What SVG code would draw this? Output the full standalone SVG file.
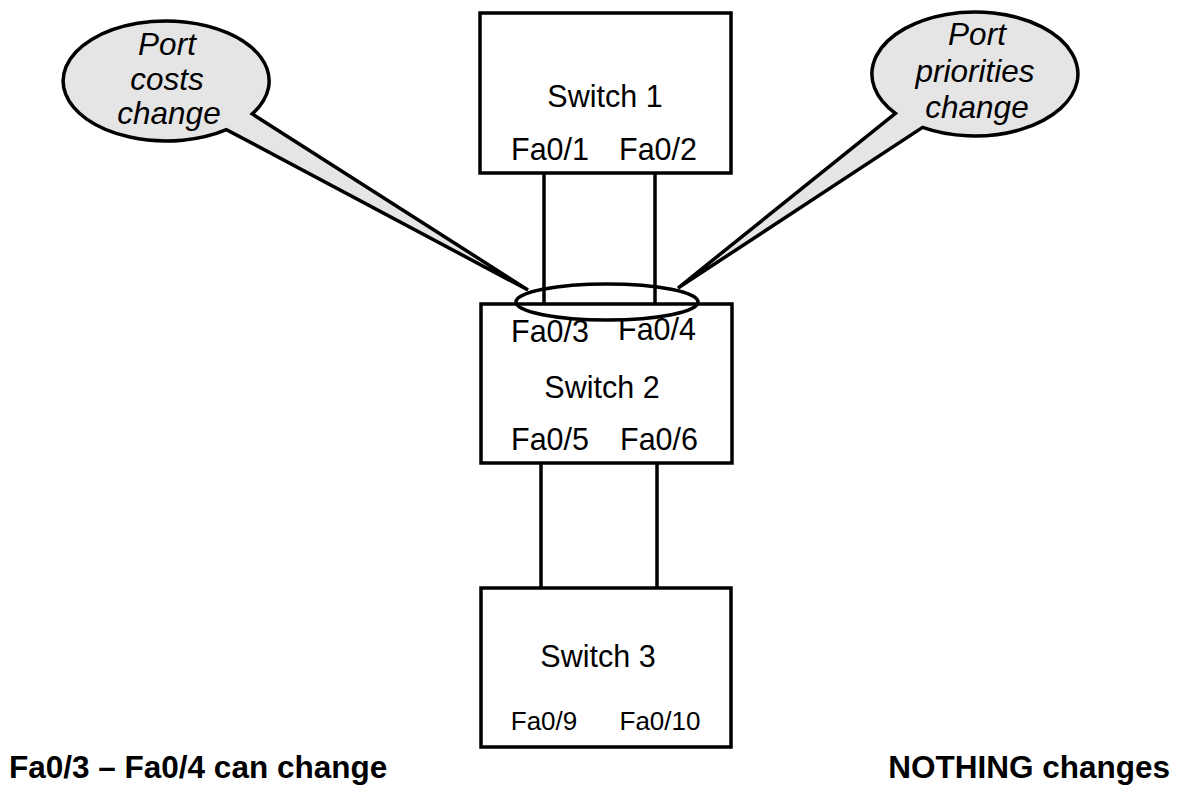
<svg xmlns="http://www.w3.org/2000/svg" width="1178" height="785" viewBox="0 0 1178 785">
  <style>
    .box { fill: #ffffff; stroke: #000000; stroke-width: 3.5; }
    .link { stroke: #000000; stroke-width: 3.5; fill: none; }
    .callout { fill: #e5e5e5; stroke: #000000; stroke-width: 3.5; stroke-linejoin: miter; }
    .ring { fill: none; stroke: #000000; stroke-width: 3.5; }
    .lbl { font-family: "Liberation Sans", Arial, sans-serif; font-size: 30.5px; fill: #000000; text-anchor: middle; }
    .port-sm { font-size: 26px; }
    .note { font-family: "Liberation Sans", Arial, sans-serif; font-size: 31.5px; font-style: italic; fill: #000000; text-anchor: middle; }
    .caption { font-family: "Liberation Sans", Arial, sans-serif; font-size: 31.5px; font-weight: bold; fill: #000000; }
  </style>
  <rect width="1178" height="785" fill="#ffffff"/>

  <!-- links between switches -->
  <g id="connectors">
    <line class="link" x1="544" y1="173" x2="544" y2="304"/>
    <line class="link" x1="655" y1="173" x2="655" y2="304"/>
    <line class="link" x1="541" y1="463" x2="541" y2="592"/>
    <line class="link" x1="657" y1="463" x2="657" y2="592"/>
  </g>

  <g id="switch1">
    <rect class="box" x="480" y="13" width="251" height="160"/>
    <text class="lbl" x="605" y="107">Switch 1</text>
    <text class="lbl" x="550" y="160">Fa0/1</text>
    <text class="lbl" x="658" y="160">Fa0/2</text>
  </g>

  <g id="switch2">
    <rect class="box" x="481" y="304" width="251" height="159"/>
    <text class="lbl" x="550" y="342">Fa0/3</text>
    <text class="lbl" x="657" y="340">Fa0/4</text>
    <text class="lbl" x="602" y="398">Switch 2</text>
    <text class="lbl" x="550" y="450">Fa0/5</text>
    <text class="lbl" x="659" y="450">Fa0/6</text>
  </g>

  <g id="switch3">
    <rect class="box" x="481" y="588" width="250" height="159"/>
    <text class="lbl" x="598" y="667">Switch 3</text>
    <text class="lbl port-sm" x="544" y="730">Fa0/9</text>
    <text class="lbl port-sm" x="660" y="730">Fa0/10</text>
  </g>

  <!-- ring marking the Fa0/3 - Fa0/4 uplinks -->
  <g id="uplink-ring">
    <ellipse class="ring" cx="607" cy="302" rx="91" ry="18"/>
  </g>

  <g id="callout-costs">
    <path class="callout" d="M 252.2,113.9 L 528,290 L 226.4,129.6 A 103 60 0 1 1 252.2,113.9 Z"/>
    <text class="note" x="167" y="55">Port</text>
    <text class="note" x="167" y="90">costs</text>
    <text class="note" x="169" y="124">change</text>
  </g>

  <g id="callout-priorities">
    <path class="callout" d="M 895.4,113.4 L 678,288 L 922.6,127.4 A 103 62 0 1 0 895.4,113.4 Z"/>
    <text class="note" x="977" y="45">Port</text>
    <text class="note" x="975" y="82">priorities</text>
    <text class="note" x="977" y="118">change</text>
  </g>

  <g id="captions">
    <text class="caption" x="9" y="778">Fa0/3 – Fa0/4 can change</text>
    <text class="caption" x="1170" y="778" text-anchor="end">NOTHING changes</text>
  </g>
</svg>
